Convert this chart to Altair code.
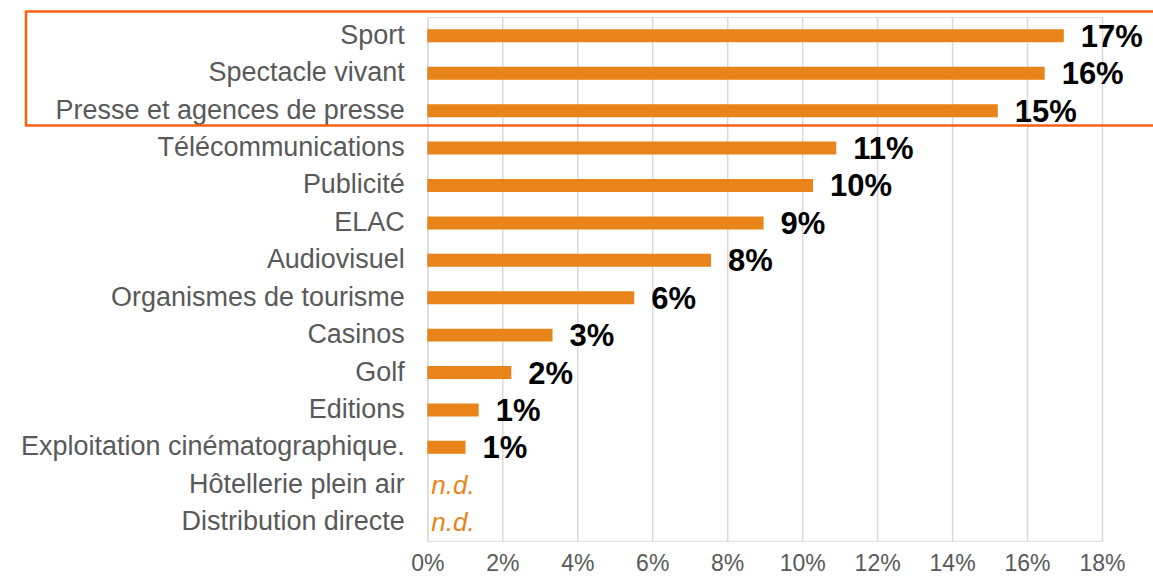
import altair as alt
import pandas as pd

# Sectors, top to bottom
categories = [
    "Sport",
    "Spectacle vivant",
    "Presse et agences de presse",
    "Télécommunications",
    "Publicité",
    "ELAC",
    "Audiovisuel",
    "Organismes de tourisme",
    "Casinos",
    "Golf",
    "Editions",
    "Exploitation cinématographique.",
    "Hôtellerie plein air",
    "Distribution directe",
]

# Share per sector (None = not available)
shares = [
    0.1698, 0.1647, 0.1522, 0.1091, 0.1029, 0.0897, 0.0757,
    0.0552, 0.0334, 0.0224, 0.0137, 0.0102, None, None,
]

x_ticks = [0, 0.02, 0.04, 0.06, 0.08, 0.10, 0.12, 0.14, 0.16, 0.18]

df = pd.DataFrame({"secteur": categories, "part": shares})

FONT = "Liberation Sans"
BAR = "#E8841A"

y_enc = alt.Y(
    "secteur:N",
    sort=categories,
    title=None,
    axis=alt.Axis(
        domain=False, ticks=False, grid=False,
        labelFontSize=27, labelColor="#595959", labelFont=FONT,
        labelPadding=23, labelLimit=600,
    ),
)

x_enc = alt.X(
    "part:Q",
    title=None,
    scale=alt.Scale(domain=[0, 0.18], nice=False),
    axis=alt.Axis(
        format=".0%", values=x_ticks, domain=False, ticks=False,
        grid=True, gridColor="#D9D9D9", gridWidth=1.5,
        labelFontSize=23, labelColor="#595959", labelFont=FONT,
        labelPadding=12, labelFlush=False,
    ),
)

base = alt.Chart(df)

bars = base.transform_filter("datum.part != null").mark_bar(
    size=13, color=BAR
).encode(x=x_enc, y=y_enc)

values = base.transform_filter("datum.part != null").mark_text(
    align="left", baseline="middle", dx=17, dy=2,
    fontSize=31, fontWeight="bold", font=FONT, color="#000000",
).encode(
    x="part:Q",
    y=alt.Y("secteur:N", sort=categories),
    text=alt.Text("part:Q", format=".0%"),
)

nd = base.transform_filter("datum.part == null").transform_calculate(
    zero="0", lab="'n.d.'"
).mark_text(
    align="left", baseline="middle", dx=4, dy=1,
    fontSize=26, fontStyle="italic", font=FONT, color=BAR,
).encode(
    x="zero:Q",
    y=alt.Y("secteur:N", sort=categories),
    text="lab:N",
)

# Highlight frame around the three leading sectors
frame = alt.Chart(alt.Data(values=[{"k": 1}])).mark_rect(
    fill=None, fillOpacity=0, stroke="#FF6010", strokeWidth=2.5, clip=False
).encode(
    x=alt.value(-401.5), x2=alt.value(735),
    y=alt.value(-5.7), y2=alt.value(108.5),
)

chart = alt.layer(bars, values, nd, frame).properties(
    width=675,
    height=524,
    autosize=alt.AutoSizeParams(type="none"),
    padding={"left": 427.5, "top": 17, "right": 51, "bottom": 38},
).configure_view(stroke=None).configure(background="white")

chart.save("out.html", embed_options={"renderer": "svg", "actions": False})
